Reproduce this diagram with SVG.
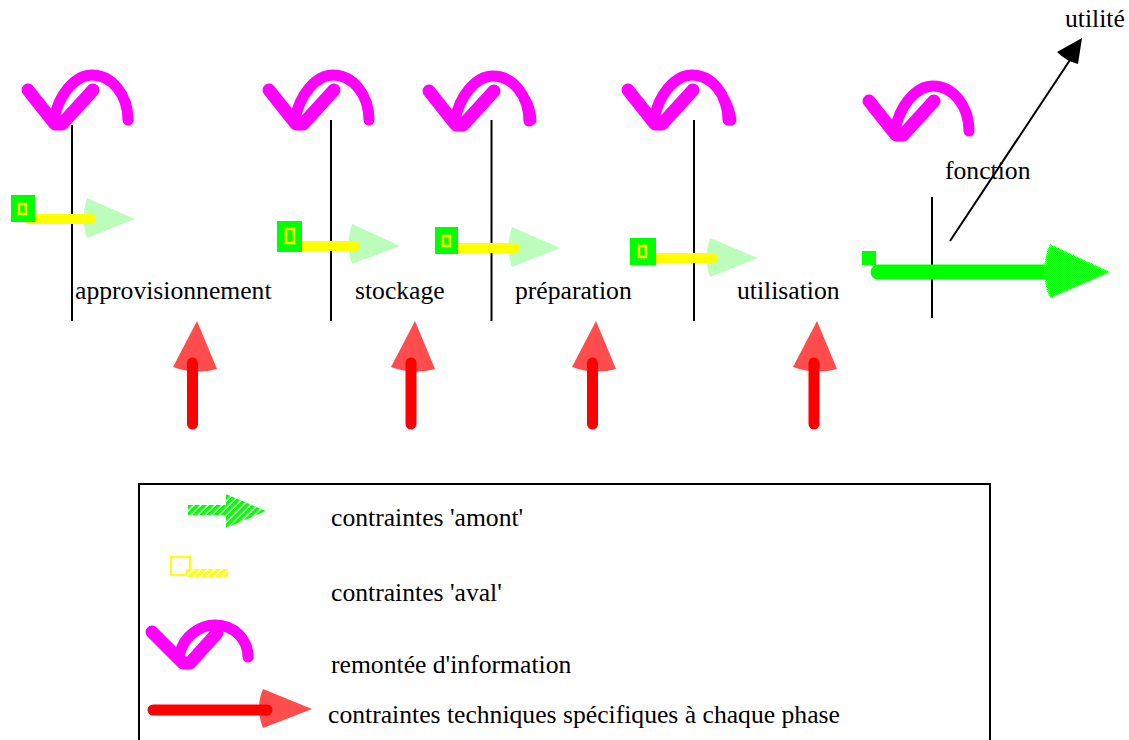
<svg xmlns="http://www.w3.org/2000/svg" xmlns:xlink="http://www.w3.org/1999/xlink" width="1129" height="740" viewBox="0 0 1129 740">
<style>
text{font-family:"Liberation Serif","Times New Roman",serif;font-size:25.65px;fill:#000}
.ln{stroke:#000;stroke-width:2;fill:none}
.ck{fill:none;stroke:#f0f;stroke-width:13;stroke-linecap:round;stroke-linejoin:round}
.sw{fill:none;stroke:#f0f;stroke-width:11;stroke-linecap:round;stroke-linejoin:round}
.gs{fill:#0f0}
.yi{fill:#0f0;stroke:#ff0;stroke-width:2.500}
.yb{stroke:#ff0;stroke-width:10;stroke-linecap:round;fill:none}
.lt{fill:#bcfdbc}
.rb{stroke:#f00;stroke-width:11;stroke-linecap:round;fill:none}
.rt{fill:#ff4c4c}
</style>
<defs>
<pattern id="dGreen" width="2" height="2" patternUnits="userSpaceOnUse"><rect width="2" height="2" fill="#c0ffc0"/><rect width="1" height="1" fill="#0f0"/><rect x="1" y="1" width="1" height="1" fill="#0f0"/></pattern>
<pattern id="hG" width="5" height="5" patternUnits="userSpaceOnUse" patternTransform="rotate(45)"><rect width="5" height="5" fill="#fff"/><rect width="3.600" height="5" fill="#0f0"/></pattern>
<pattern id="hY" width="5" height="5" patternUnits="userSpaceOnUse" patternTransform="rotate(45)"><rect width="5" height="5" fill="#fff"/><rect width="3.600" height="5" fill="#ff0"/></pattern>
<g id="swoosh"><path class="sw" d="M26 30C30 5 47 -15 64 -15C84 -15 100 5 100 30"/><path class="ck" d="M0 0L27 34L34 34L65 0"/></g>
<path id="red" d="M-20 46L4 0L24 48Q2 54 -20 46Z" class="rt"/>
</defs>
<g id="connectors">
<path class="ln" d="M72 125V321"/>
<path class="ln" d="M331 120V321"/>
<path class="ln" d="M491.500 120V321"/>
<path class="ln" d="M694 120V321"/>
<path class="ln" d="M932 197V318"/>
<path class="ln" d="M950 241L1070 60"/>
<path d="M1082 38L1078 64Q1066 61 1057 52Z" fill="#000"/>
</g>
<g id="n-swoosh-1"><use xlink:href="#swoosh" x="28" y="90"/></g>
<g id="n-swoosh-2"><use xlink:href="#swoosh" x="269" y="90"/></g>
<g id="n-swoosh-3"><use xlink:href="#swoosh" x="429" y="91"/><path class="sw" d="M525 100Q530 108 531 120"/></g>
<g id="n-swoosh-4"><use xlink:href="#swoosh" x="628" y="90"/><path class="sw" d="M724 100Q729 108 731 120"/></g>
<g id="n-swoosh-5"><use xlink:href="#swoosh" x="869" y="101"/></g>
<g id="n-aval-1"><path class="lt" d="M87 198L135 219L87 238Q80 218 87 198Z"/><path class="yb" d="M29 219H91"/><rect class="gs" x="11" y="195" width="24" height="27"/><rect class="yi" x="19" y="204" width="7" height="10"/></g>
<g id="n-aval-2"><path class="lt" d="M352 224L400 246L352 264Q345 244 352 224Z"/><path class="yb" d="M300 246H355"/><rect class="gs" x="277" y="221" width="25" height="31"/><rect class="yi" x="286" y="229" width="8" height="14"/></g>
<g id="n-aval-3"><path class="lt" d="M512 227L560 248L512 267Q505 247 512 227Z"/><path class="yb" d="M455 248H515"/><rect class="gs" x="435" y="227" width="23" height="27"/><rect class="yi" x="443" y="236" width="7" height="10"/></g>
<g id="n-aval-4"><path class="lt" d="M710 238L758 258L710 277Q703 257 710 238Z"/><path class="yb" d="M653 258H713"/><rect class="gs" x="630" y="238" width="26" height="27"/><rect class="yi" x="639" y="246" width="7" height="11"/></g>
<g id="n-amont"><rect class="gs" x="862" y="251" width="14" height="14"/><path d="M878 272H1050" stroke="#0f0" stroke-width="15" stroke-linecap="round" fill="none"/><path d="M1050 244L1110 272L1050 298Q1038 271 1050 244Z" fill="url(#dGreen)"/></g>
<g id="n-red-1"><use xlink:href="#red" x="193" y="321"/><path class="rb" d="M192.500 363V424"/></g>
<g id="n-red-2"><use xlink:href="#red" x="411" y="321"/><path class="rb" d="M411 363V424"/></g>
<g id="n-red-3"><use xlink:href="#red" x="592" y="321"/><path class="rb" d="M592.500 363V424"/></g>
<g id="n-red-4"><use xlink:href="#red" x="813" y="321"/><path class="rb" d="M814 363V424"/></g>
<g id="labels">
<text x="75" y="299">approvisionnement</text>
<text x="355" y="299">stockage</text>
<text x="515" y="299">préparation</text>
<text x="737" y="299">utilisation</text>
<text x="945" y="179">fonction</text>
<text x="1065" y="27">utilité</text>
</g>
<g id="legend">
<path d="M139 740V484H990V740" fill="none" stroke="#000" stroke-width="2"/>
<path d="M188 505H226V494L266 511L226 528V515H188Z" fill="url(#hG)"/>
<rect x="171" y="557" width="19" height="18" fill="none" stroke="#ff0" stroke-width="2"/>
<rect x="186" y="569" width="42" height="8" fill="url(#hY)"/>
<path class="sw" d="M180 653C184 636 200 625 215 625C235 625 248 640 248 657"/>
<path class="ck" d="M152 632L183 663L190 663L217 633"/>
<path class="rt" d="M263 689L312 709L263 728Q255 708 263 689Z"/>
<path class="rb" d="M153 710H267"/>
<text x="331" y="526">contraintes 'amont'</text>
<text x="331" y="601">contraintes 'aval'</text>
<text x="331" y="673">remontée d'information</text>
<text x="328" y="723">contraintes techniques spécifiques à chaque phase</text>
</g>
</svg>
